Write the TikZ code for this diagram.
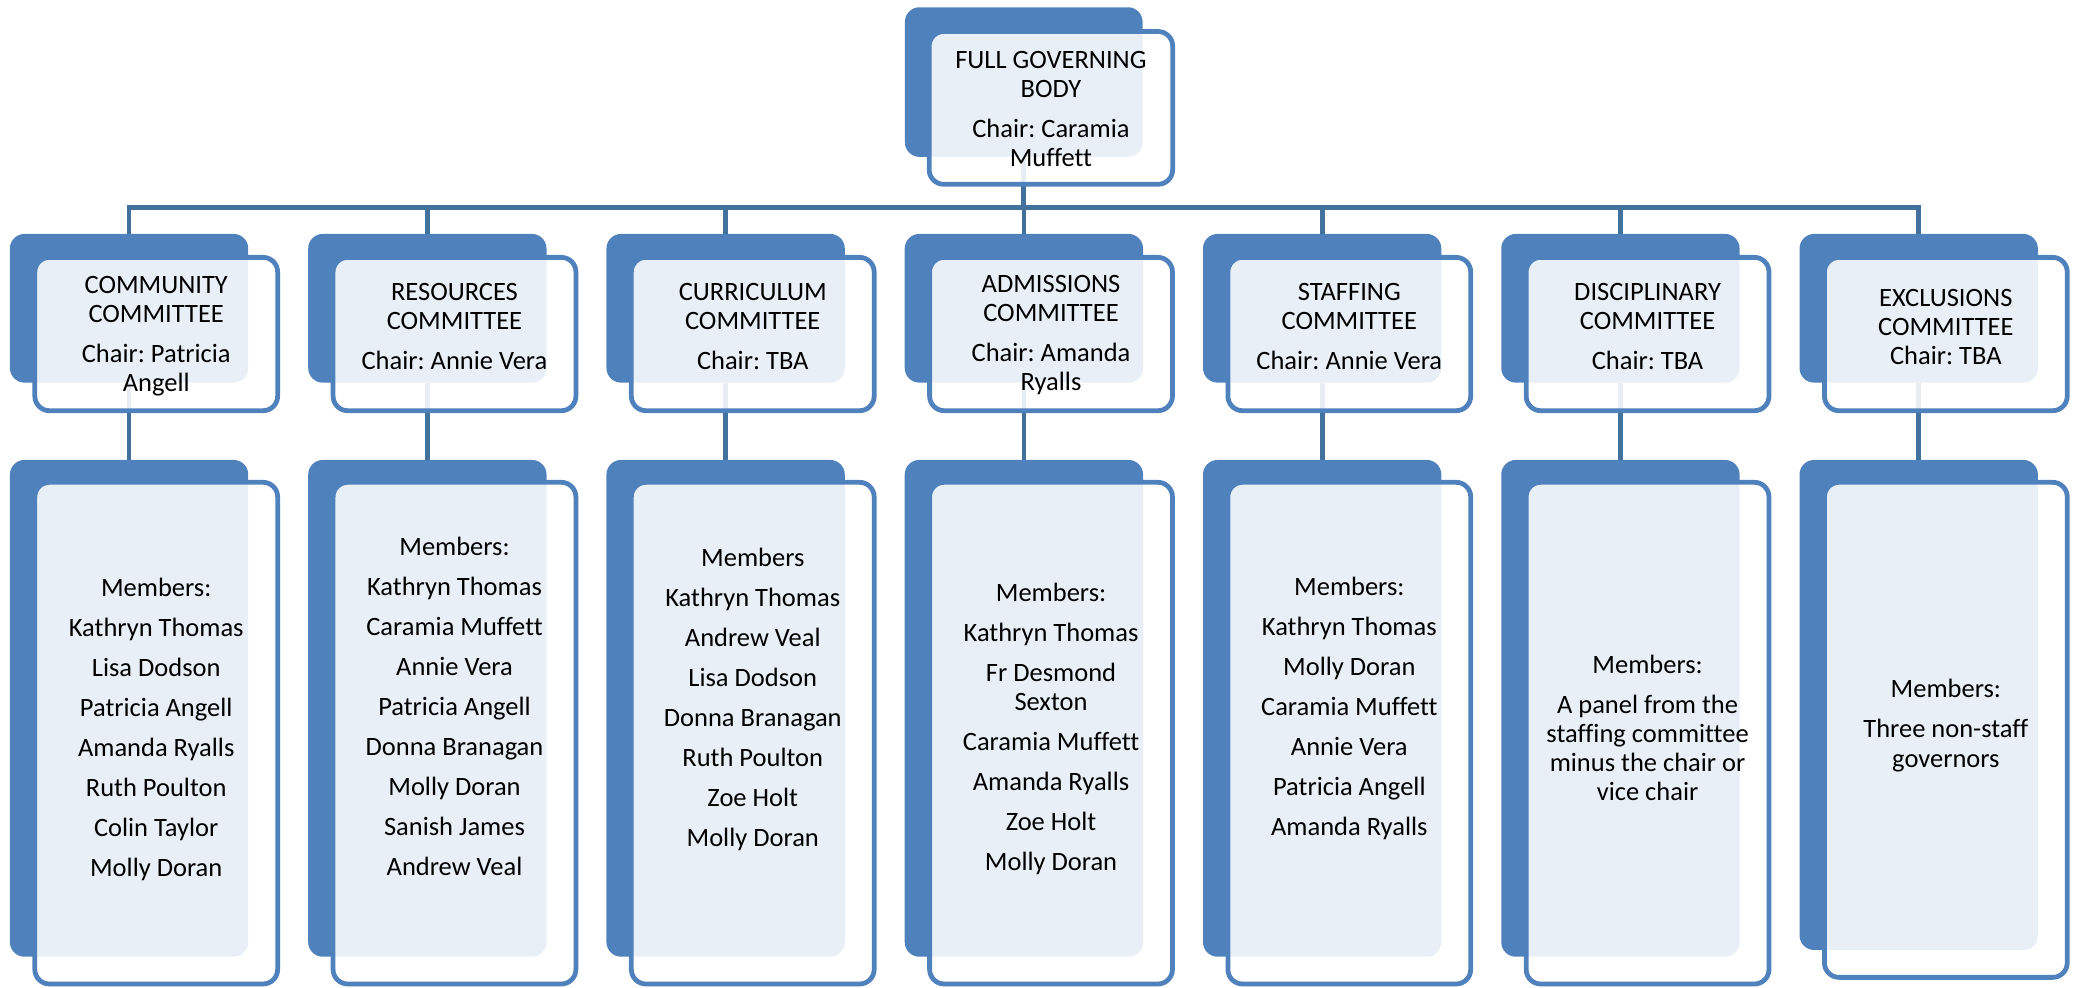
\documentclass[tikz,border=0pt]{standalone}
\usepackage{fontspec}
\setmainfont{Carlito}[Ligatures=NoCommon]
\frenchspacing
\definecolor{boxblue}{HTML}{4F81BD}
\definecolor{linkblue}{HTML}{41719C}
\newcommand{\tstrut}{\rule[-3pt]{0pt}{17pt}}
\newcommand{\tl}[1]{\tstrut#1\tstrut}
\newcommand{\pgap}{\\[8.2pt]}
\pgfdeclarelayer{background}
\pgfsetlayers{background,main}
\tikzset{
  backbox/.style={draw=none, fill=boxblue, rounded corners=11pt, minimum width=180pt, inner sep=0pt, outer sep=0pt},
  frontbox/.style={draw=boxblue, line width=3.6pt, fill=white, fill opacity=0.88, rounded corners=11pt, minimum width=183.4pt, inner sep=0pt, outer sep=0pt},
  boxtext/.style={font=\fontsize{20pt}{22pt}\selectfont, align=center, inner sep=0pt, anchor=center, text=black, text opacity=1},
  link/.style={draw=linkblue, line width=3.6pt}
}
\begin{document}
\begin{tikzpicture}[x=1pt,y=-1pt]
\useasboundingbox (0,0) rectangle (1568,745.5);
% top
\node[backbox, minimum width=179.5pt, minimum height=113pt] (fgbB) at (773.25,62) {};
\node[frontbox, minimum width=183.9pt, minimum height=115.4pt] (fgbF) at (793.75,81.5) {};
\node[boxtext] (fgbT) at (793.75,83.25) {\tl{FULL GOVERNING\\BODY\pgap Chair: Caramia\\Muffett}};
% committees: back boxes
\node[backbox, minimum height=112.3pt] (c1B) at (97.5,232.85) {};
\node[backbox, minimum height=112.3pt] (c2B) at (322.78,232.85) {};
\node[backbox, minimum height=112.3pt] (c3B) at (548.06,232.85) {};
\node[backbox, minimum height=112.3pt] (c4B) at (773.34,232.85) {};
\node[backbox, minimum height=112.3pt] (c5B) at (998.62,232.85) {};
\node[backbox, minimum height=112.3pt] (c6B) at (1223.9,232.85) {};
\node[backbox, minimum height=112.3pt] (c7B) at (1449.18,232.85) {};
% committees: front boxes
\node[frontbox, minimum height=115.8pt] (c1F) at (118,252.3) {};
\node[frontbox, minimum height=115.8pt] (c2F) at (343.28,252.3) {};
\node[frontbox, minimum height=115.8pt] (c3F) at (568.56,252.3) {};
\node[frontbox, minimum height=115.8pt] (c4F) at (793.84,252.3) {};
\node[frontbox, minimum height=115.8pt] (c5F) at (1019.12,252.3) {};
\node[frontbox, minimum height=115.8pt] (c6F) at (1244.4,252.3) {};
\node[frontbox, minimum height=115.8pt] (c7F) at (1469.68,252.3) {};
% committees: text
\node[boxtext] (c1T) at (118,253.4) {\tl{COMMUNITY\\COMMITTEE\pgap Chair: Patricia\\Angell}};
\node[boxtext] (c2T) at (343.28,247.25) {\tl{RESOURCES\\COMMITTEE\pgap Chair: Annie Vera}};
\node[boxtext] (c3T) at (568.56,247.25) {\tl{CURRICULUM\\COMMITTEE\pgap Chair: TBA}};
\node[boxtext] (c4T) at (793.84,252.5) {\tl{ADMISSIONS\\COMMITTEE\pgap Chair: Amanda\\Ryalls}};
\node[boxtext] (c5T) at (1019.12,247.25) {\tl{STAFFING\\COMMITTEE\pgap Chair: Annie Vera}};
\node[boxtext] (c6T) at (1244.4,247.25) {\tl{DISCIPLINARY\\COMMITTEE\pgap Chair: TBA}};
\node[boxtext] (c7T) at (1469.68,248) {\tl{EXCLUSIONS\\COMMITTEE\\Chair: TBA}};
% members: back boxes
\node[backbox, minimum height=375.2pt] (m1B) at (97.5,535) {};
\node[backbox, minimum height=375.2pt] (m2B) at (322.78,535) {};
\node[backbox, minimum height=375.2pt] (m3B) at (548.06,535) {};
\node[backbox, minimum height=375.2pt] (m4B) at (773.34,535) {};
\node[backbox, minimum height=375.2pt] (m5B) at (998.62,535) {};
\node[backbox, minimum height=375.2pt] (m6B) at (1223.9,535) {};
\node[backbox, minimum height=370.1pt] (m7B) at (1449.18,532.45) {};
% members: front boxes
\node[frontbox, minimum height=378.9pt] (m1F) at (118,553.75) {};
\node[frontbox, minimum height=378.9pt] (m2F) at (343.28,553.75) {};
\node[frontbox, minimum height=378.9pt] (m3F) at (568.56,553.75) {};
\node[frontbox, minimum height=378.9pt] (m4F) at (793.84,553.75) {};
\node[frontbox, minimum height=378.9pt] (m5F) at (1019.12,553.75) {};
\node[frontbox, minimum height=378.9pt] (m6F) at (1244.4,553.75) {};
\node[frontbox, minimum height=373.9pt] (m7F) at (1469.68,551.25) {};
% members: text
\node[boxtext] (m1T) at (118,550.8) {\tl{Members:\pgap Kathryn Thomas\pgap Lisa Dodson\pgap Patricia Angell\pgap Amanda Ryalls\pgap Ruth Poulton\pgap Colin Taylor\pgap Molly Doran}};
\node[boxtext] (m2T) at (343.28,535) {\tl{Members:\pgap Kathryn Thomas\pgap Caramia Muffett\pgap Annie Vera\pgap Patricia Angell\pgap Donna Branagan\pgap Molly Doran\pgap Sanish James\pgap Andrew Veal}};
\node[boxtext] (m3T) at (568.56,528.5) {\tl{Members\pgap Kathryn Thomas\pgap Andrew Veal\pgap Lisa Dodson\pgap Donna Branagan\pgap Ruth Poulton\pgap Zoe Holt\pgap Molly Doran}};
\node[boxtext] (m4T) at (793.84,550.7) {\tl{Members:\pgap Kathryn Thomas\pgap Fr Desmond\\Sexton\pgap Caramia Muffett\pgap Amanda Ryalls\pgap Zoe Holt\pgap Molly Doran}};
\node[boxtext] (m5T) at (1019.12,535) {\tl{Members:\pgap Kathryn Thomas\pgap Molly Doran\pgap Caramia Muffett\pgap Annie Vera\pgap Patricia Angell\pgap Amanda Ryalls}};
\node[boxtext] (m6T) at (1244.4,551) {\tl{Members:\pgap A panel from the\\staffing committee\\minus the chair or\\vice chair}};
\node[boxtext] (m7T) at (1469.68,548) {\tl{Members:\pgap Three non-staff\\governors}};
% connectors
\coordinate (bus) at (0,157);
\begin{pgfonlayer}{background}
\draw[link] (fgbB.south) -- (fgbB.south |- bus);
\draw[link] (c1B.north) -- (c1B.north |- bus) -- (c7B.north |- bus) -- (c7B.north);
\draw[link] (c2B.north) -- (c2B.north |- bus);
\draw[link] (c3B.north) -- (c3B.north |- bus);
\draw[link] (c4B.north) -- (c4B.north |- bus);
\draw[link] (c5B.north) -- (c5B.north |- bus);
\draw[link] (c6B.north) -- (c6B.north |- bus);
\draw[link] (c1B.south) -- (m1B.north);
\draw[link] (c2B.south) -- (m2B.north);
\draw[link] (c3B.south) -- (m3B.north);
\draw[link] (c4B.south) -- (m4B.north);
\draw[link] (c5B.south) -- (m5B.north);
\draw[link] (c6B.south) -- (m6B.north);
\draw[link] (c7B.south) -- (m7B.north);
\end{pgfonlayer}
\end{tikzpicture}
\end{document}
